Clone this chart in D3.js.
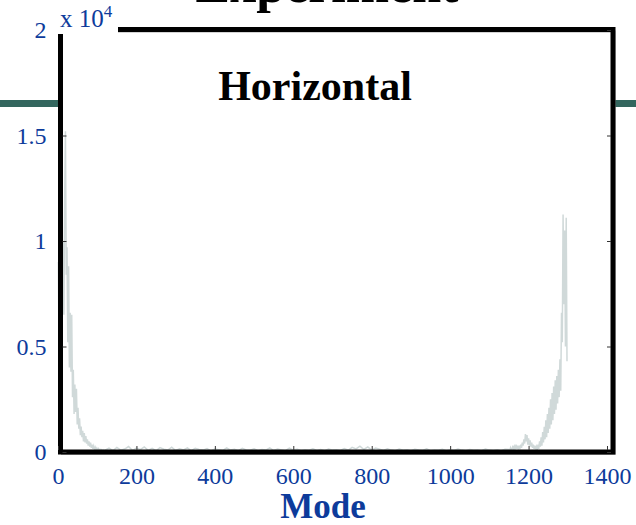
<!DOCTYPE html>
<html>
<head>
<meta charset="utf-8">
<script src="https://cdn.jsdelivr.net/npm/d3@7"></script>
<style>
  body { margin: 0; background: #fff; }
  svg { display: block; }
  .tick text { font-family: "Liberation Serif", "Times New Roman", serif; }
</style>
</head>
<body>
<svg id="chart"></svg>
<script>
// modal amplitudes (counts)
const headModes = d3.range(1, 121, 2);
const headValues = [
  9000, 3500, 10200, 6200, 13300, 8000, 10000, 6500, 12000, 15200,
  8400, 9700, 5200, 8800, 4000, 6600, 3800, 6500, 2600, 3900,
  1800, 3200, 1900, 3000, 1300, 2100, 1100, 1600, 800, 1200,
  700, 1000, 500, 900, 450, 750, 400, 600, 300, 500,
  250, 450, 200, 350, 150, 280, 120, 220, 100, 180,
  80, 150, 60, 120, 50, 100, 40, 90, 30, 80
];
const midModes = d3.range(130, 1150, 10);
const midValues = [
  180, 60, 220, 90, 140, 260, 70, 190, 110, 240,
  80, 170, 60, 210, 130, 90, 230, 70, 150, 100,
  200, 60, 180, 120, 90, 160, 50, 140, 110, 70,
  190, 90, 130, 60, 170, 100, 80, 150, 60, 120,
  90, 200, 70, 140, 100, 60, 180, 90, 130, 70,
  110, 80, 150, 70, 120, 60, 140, 90, 110, 70,
  160, 80, 220, 150, 280, 120, 240, 90, 190, 130,
  70, 150, 90, 60, 140, 80, 110, 60, 130, 90,
  70, 150, 60, 100, 80, 130, 60, 110, 70, 140,
  90, 60, 120, 80, 100, 60, 140, 90, 70, 110,
  60, 130
];
const tailModes = d3.range(1150, 1300, 2);
const tailValues = [
  120, 60, 200, 90, 150, 300, 100, 250, 120, 350,
  150, 300, 120, 250, 180, 350, 200, 450, 300, 600,
  400, 850, 500, 800, 350, 650, 300, 550, 250, 450,
  200, 350, 150, 300, 120, 250, 100, 350, 150, 500,
  250, 700, 300, 950, 450, 1200, 600, 1500, 700, 1800,
  900, 2100, 1100, 2500, 1300, 2800, 1500, 3100, 1800, 3400,
  2000, 3600, 2300, 3900, 2600, 4400, 2900, 6600, 5200, 11260,
  7000, 10500, 5000, 11100, 4300
];
const xTicks = [0, 200, 400, 600, 800, 1000, 1200, 1400];
const yTicks = [0, 5000, 10000, 15000, 20000];

const width = 636, height = 525;
const blue = "#0d3b9b";
const serif = '"Liberation Serif", "Times New Roman", serif';

const series = [
  ...headModes.map((m, i) => ({ mode: m, value: headValues[i] })),
  ...midModes.map((m, i) => ({ mode: m, value: midValues[i] })),
  ...tailModes.map((m, i) => ({ mode: m, value: tailValues[i] }))
];

const svg = d3.select("#chart").attr("width", width).attr("height", height);

const x = d3.scaleLinear().domain([0, 1400]).range([58, 607]);
const y = d3.scaleLinear().domain([0, 20000]).range([452, 30]);

// slide decoration: teal band behind the plot
svg.append("rect")
  .attr("x", 0).attr("y", 100)
  .attr("width", width).attr("height", 7)
  .attr("fill", "#33665e");

// slide title, cut by the top of the frame
svg.append("text")
  .attr("x", 327).attr("y", 2)
  .attr("text-anchor", "middle")
  .style("font-family", serif)
  .style("font-weight", "bold")
  .style("font-size", "52px")
  .text("Experiment");

// plot area
const box = { left: 60.5, right: 613, top: 29.5, bottom: 452 };
svg.append("rect")
  .attr("x", box.left).attr("y", box.top)
  .attr("width", box.right - box.left).attr("height", box.bottom - box.top)
  .attr("fill", "#fff");

// data line
const line = d3.line()
  .x(d => x(d.mode))
  .y(d => y(d.value));

svg.append("path")
  .datum(series)
  .attr("d", line)
  .attr("fill", "none")
  .attr("stroke", "#d0d9d9")
  .attr("stroke-width", 1.5);

// frame with a soft shadow
svg.append("rect")
  .attr("x", box.left + 1.5).attr("y", box.top + 2)
  .attr("width", box.right - box.left).attr("height", box.bottom - box.top)
  .attr("fill", "none")
  .attr("stroke", "#aaa")
  .attr("stroke-width", 2);
svg.append("rect")
  .attr("x", box.left).attr("y", box.top)
  .attr("width", box.right - box.left).attr("height", box.bottom - box.top)
  .attr("fill", "none")
  .attr("stroke", "#000")
  .attr("stroke-width", 5);

// axes
const xAxis = d3.axisBottom(x)
  .tickValues(xTicks)
  .tickSize(-4)
  .tickFormat(d3.format("d"))
  .tickPadding(16);
const yAxis = d3.axisLeft(y)
  .tickValues(yTicks)
  .tickSize(-4)
  .tickFormat(d => d / 10000)
  .tickPadding(14);

const xAxisG = svg.append("g")
  .attr("transform", `translate(0,${box.bottom - 2})`)
  .call(xAxis);
const yAxisG = svg.append("g")
  .attr("transform", `translate(${box.left + 2},0)`)
  .call(yAxis);

[xAxisG, yAxisG].forEach(g => {
  g.select(".domain").remove();
  g.selectAll(".tick line").attr("stroke", "#333").attr("stroke-width", 1);
  g.selectAll(".tick text")
    .attr("fill", blue)
    .style("font-family", serif)
    .style("font-size", "24px");
});
xAxisG.selectAll(".tick text").attr("transform", `translate(0,1)`);
yAxisG.selectAll(".tick text").attr("x", -16);

// inner ticks on the right side too
svg.append("g")
  .attr("transform", `translate(${box.right - 2},0)`)
  .call(d3.axisRight(y).tickValues(yTicks).tickSize(-4).tickFormat(""))
  .call(g => g.select(".domain").remove())
  .call(g => g.selectAll(".tick line").attr("stroke", "#333"));

// exponent label
const expo = svg.append("g");
expo.append("rect")
  .attr("x", 58).attr("y", 6)
  .attr("width", 60).attr("height", 28)
  .attr("fill", "#fff");
const expoText = expo.append("text")
  .attr("x", 60).attr("y", 27)
  .attr("fill", blue)
  .style("font-family", serif)
  .style("font-size", "25px");
expoText.append("tspan").text("x 10");
expoText.append("tspan")
  .attr("dy", -10)
  .style("font-size", "17px")
  .text("4");

// panel title
svg.append("text")
  .attr("x", 315).attr("y", 100)
  .attr("text-anchor", "middle")
  .style("font-family", serif)
  .style("font-weight", "bold")
  .style("font-size", "42px")
  .text("Horizontal");

// x-axis title
svg.append("text")
  .attr("x", 323).attr("y", 518)
  .attr("text-anchor", "middle")
  .attr("fill", blue)
  .style("font-family", serif)
  .style("font-weight", "bold")
  .style("font-size", "35px")
  .text("Mode");
</script>
</body>
</html>
